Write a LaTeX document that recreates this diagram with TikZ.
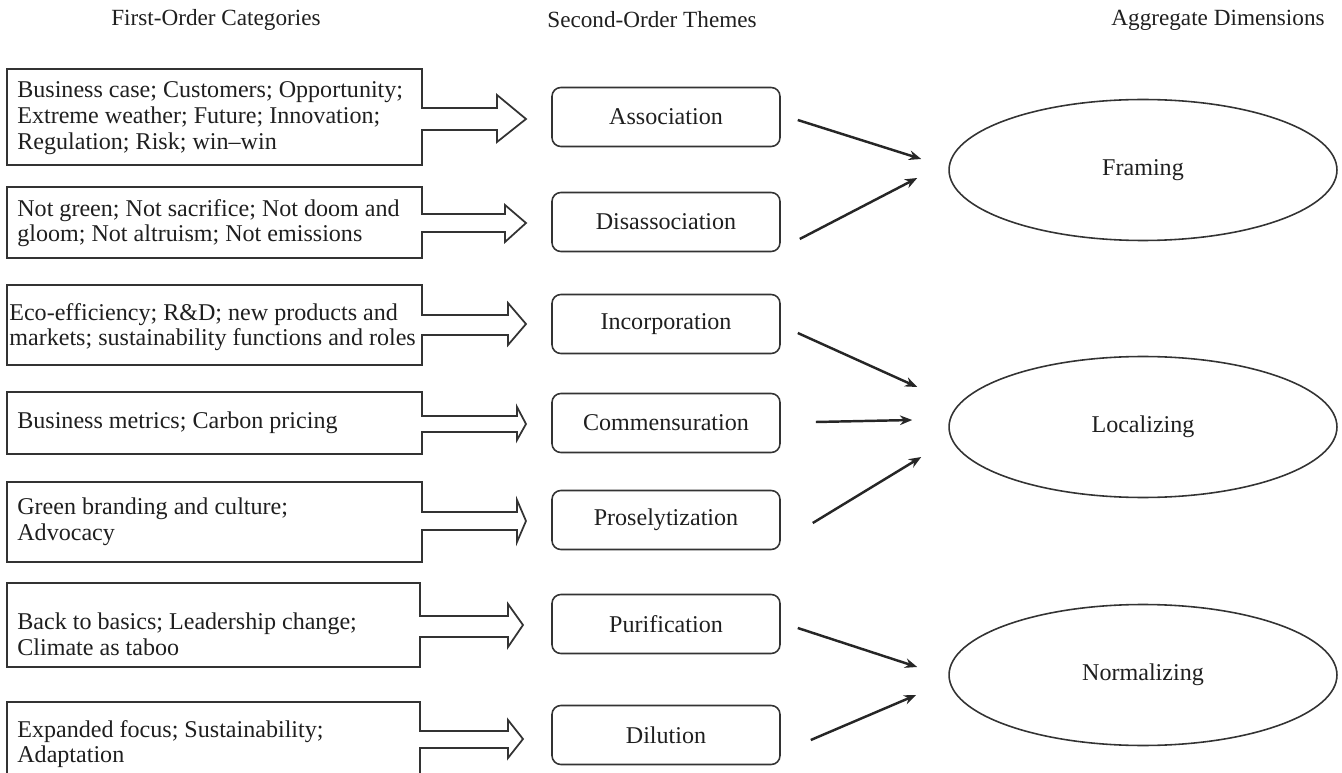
\documentclass[tikz,border=0pt]{standalone}
\usepackage{fontspec}
\setmainfont{Liberation Serif}
\usetikzlibrary{shapes.geometric, arrows.meta, calc}

\begin{document}
\begin{tikzpicture}[x=0.02cm, y=-0.02cm, line join=miter,
		font=\fontsize{13.7}{14.6}\selectfont, text=black!88,
		colhead/.style={font=\fontsize{13.2}{14}\selectfont},
		cat/.style={anchor=west, align=left, inner sep=0pt},
		catline/.style={draw=black!80, line width=1pt},
		theme/.style={draw=black!80, line width=0.9pt, rounded corners=5pt, minimum width=4.56cm, minimum height=1.18cm},
		dim/.style={draw=black!80, line width=0.9pt, ellipse, minimum width=7.76cm, minimum height=2.82cm},
		link/.style={-{Stealth[length=7pt,width=5.5pt]}, line width=1.4pt, draw=black!85}]
	\useasboundingbox (0,0) rectangle (1342,773);
	\clip (0,0) rectangle (1342,773);
	
	% Column headings
	\node[colhead] (h1) at (216,20) {First-Order Categories};
	\node[colhead] (h2) at (652,20) {Second-Order Themes};
	\node[colhead] (h3) at (1218,20) {Aggregate Dimensions};
	
	% First-order categories (box with block arrow)
	\draw[catline] (7,69) -- (422,69) -- (422,108) -- (497,108) -- (497,95) -- (526,119) -- (497,142) -- (497,130) -- (422,130) -- (422,165) -- (7,165) -- cycle;
	\draw[catline] (7,187) -- (422,187) -- (422,214) -- (505,214) -- (505,205) -- (526,223) -- (505,242) -- (505,232) -- (422,232) -- (422,258) -- (7,258) -- cycle;
	\draw[catline] (7,285) -- (422,285) -- (422,315) -- (508,315) -- (508,303) -- (526,324) -- (508,345) -- (508,335) -- (422,335) -- (422,365) -- (7,365) -- cycle;
	\draw[catline] (7,392) -- (422,392) -- (422,416) -- (517,416) -- (517,407) -- (526,424) -- (517,440) -- (517,432) -- (422,432) -- (422,454) -- (7,454) -- cycle;
	\draw[catline] (7,482) -- (422,482) -- (422,512) -- (517,512) -- (517,500) -- (526,521) -- (517,542) -- (517,530) -- (422,530) -- (422,562) -- (7,562) -- cycle;
	\draw[catline] (7,583) -- (420,583) -- (420,616) -- (508,616) -- (508,604) -- (523,625) -- (508,647) -- (508,637) -- (420,637) -- (420,667) -- (7,667) -- cycle;
	\draw[catline] (7,702) -- (420,702) -- (420,731) -- (508,731) -- (508,720) -- (523,739) -- (508,758) -- (508,748) -- (420,748) -- (420,800) -- (7,800) -- cycle;
	
	\node[cat] (c1) at (17,118) {Business case; Customers; Opportunity;\\Extreme weather; Future; Innovation;\\Regulation; Risk; win--win};
	\node[cat] (c2) at (17,223) {Not green; Not sacrifice; Not doom and\\gloom; Not altruism; Not emissions};
	\node[cat] (c3) at (9,327) {Eco-efficiency; R\&D; new products and\\markets; sustainability functions and roles};
	\node[cat] (c4) at (17,423) {Business metrics; Carbon pricing};
	\node[cat] (c5) at (17,522) {Green branding and culture;\\Advocacy};
	\node[cat] (c6) at (17,634) {Back to basics; Leadership change;\\Climate as taboo};
	\node[cat] (c7) at (17,744) {Expanded focus; Sustainability;\\Adaptation};
	
	% Second-order themes
	\node[theme] (t1) at (666,117) {Association};
	\node[theme] (t2) at (666,222) {Disassociation};
	\node[theme] (t3) at (666,324) {Incorporation};
	\node[theme] (t4) at (666,423) {Commensuration};
	\node[theme] (t5) at (666,520) {Proselytization};
	\node[theme] (t6) at (666,624) {Purification};
	\node[theme] (t7) at (666,735) {Dilution};
	
	% Aggregate dimensions
	\node[dim] (d1) at (1143,170) {Framing};
	\node[dim] (d2) at (1143,427) {Localizing};
	\node[dim] (d3) at (1143,675) {Normalizing};
	
	% Links
	\draw[link] ($(t1.east)+(17,3)$) -- ($(d1.west)+(-27,-11)$);
	\draw[link] ($(t2.east)+(19,17)$) -- ($(d1.west)+(-31,8)$);
	\draw[link] ($(t3.east)+(17,9)$) -- ($(d2.west)+(-31,-40)$);
	\draw[link] ($(t4.east)+(35,-1)$) -- ($(d2.west)+(-36,-7)$);
	\draw[link] ($(t5.east)+(32,3)$) -- ($(d2.west)+(-27,30)$);
	\draw[link] ($(t6.east)+(17,4)$) -- ($(d3.west)+(-31,-8)$);
	\draw[link] ($(t7.east)+(30,5)$) -- ($(d3.west)+(-32,20)$);
\end{tikzpicture}
\end{document}
